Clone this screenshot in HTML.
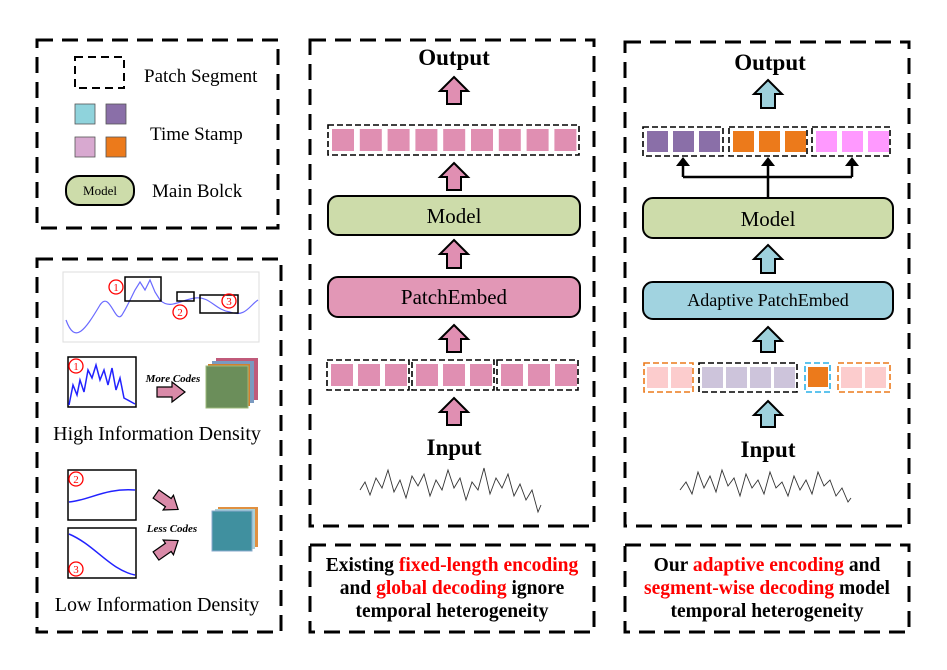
<!DOCTYPE html>
<html><head><meta charset="utf-8"><style>
html,body{margin:0;padding:0;background:#fff;}
svg{display:block;}
text{font-family:"Liberation Serif",serif;}
</style></head><body>
<svg id="s" width="947" height="670" viewBox="0 0 947 670" xmlns="http://www.w3.org/2000/svg">
<g fill="none" stroke="#000" stroke-width="3" stroke-dasharray="16,9">
<rect x="37" y="40" width="241" height="188"/>
<rect x="37" y="259" width="244" height="373"/>
<rect x="310" y="40" width="284" height="486"/>
<rect x="310" y="545" width="284" height="87"/>
<rect x="625" y="42" width="284" height="484"/>
<rect x="625" y="545" width="284" height="87"/>
</g>
<!-- legend -->
<rect x="75" y="57" width="49" height="31" fill="none" stroke="#000" stroke-width="2" stroke-dasharray="8,5"/>
<text x="144" y="82" font-size="19">Patch Segment</text>
<rect x="75" y="104" width="20" height="20" fill="#8fd3dc" stroke="#555" stroke-width="0.8"/>
<rect x="106" y="104" width="20" height="20" fill="#8a6fa8" stroke="#555" stroke-width="0.8"/>
<rect x="75" y="137" width="20" height="20" fill="#d8a9d0" stroke="#555" stroke-width="0.8"/>
<rect x="106" y="137" width="20" height="20" fill="#ec7a1b" stroke="#555" stroke-width="0.8"/>
<text x="150" y="140" font-size="19">Time Stamp</text>
<rect x="66" y="176" width="68" height="29" rx="13" fill="#cddcaa" stroke="#000" stroke-width="2"/>
<text x="100" y="195" font-size="13" text-anchor="middle">Model</text>
<text x="152" y="197" font-size="19">Main Bolck</text>
<!-- left bottom -->
<rect x="63" y="272" width="196" height="70" fill="#fff" stroke="#ddd"/>
<path d="M66,320 C75,345 85,330 100,305 C110,290 115,325 122,315 C128,305 130,300 135,290 L140,282 L145,290 L150,280 L155,292 L160,300 C170,310 180,300 195,298 C210,296 215,310 230,312 C245,318 250,305 258,300" fill="none" stroke="#6a6aff" stroke-width="1.2"/>
<rect x="125" y="277" width="36" height="24" fill="none" stroke="#000" stroke-width="1.5"/>
<rect x="177" y="292" width="17" height="9" fill="none" stroke="#000" stroke-width="1.5"/>
<rect x="200" y="295" width="38" height="18" fill="none" stroke="#000" stroke-width="1.5"/>
<g fill="none" stroke="red" stroke-width="1.3">
<circle cx="116" cy="287" r="7"/><circle cx="180" cy="312" r="7"/><circle cx="229" cy="301" r="7"/>
</g>
<g fill="red" font-size="11" text-anchor="middle" font-family="Liberation Sans"><text x="116" y="291">1</text><text x="180" y="316">2</text><text x="229" y="305">3</text></g>
<rect x="68" y="357" width="68" height="50" fill="#fff" stroke="#000" stroke-width="1.5"/>
<path d="M69,405 L73,385 L77,395 L80,380 L84,392 L88,370 L92,378 L96,365 L100,380 L104,370 L108,385 L112,368 L116,390 L120,378 L124,398 L135,404" fill="none" stroke="#22f" stroke-width="1.5"/>
<circle cx="76" cy="366" r="7" fill="none" stroke="red" stroke-width="1.3"/><text x="76" y="370" fill="red" font-size="11" text-anchor="middle" font-family="Liberation Sans">1</text>
<text x="173" y="382" font-size="11" font-style="italic" font-weight="bold" text-anchor="middle">More Codes</text>
<path d="M157,387 L172,387 L172,382 L185,392 L172,402 L172,397 L157,397 Z" fill="#d98aa8" stroke="#000" stroke-width="1.2"/>
<rect x="216" y="358" width="42" height="42" fill="#c05a7a"/><rect x="212" y="361" width="42" height="42" fill="#7a9ac0"/>
<rect x="208" y="364" width="42" height="42" fill="#d08030"/><rect x="206" y="366" width="42" height="42" fill="#6b8e5a" stroke="#9bb87a"/>
<text x="157" y="440" font-size="20" text-anchor="middle">High Information Density</text>
<rect x="68" y="470" width="68" height="50" fill="#fff" stroke="#000" stroke-width="1.5"/>
<path d="M69,502 C90,500 105,488 135,490" fill="none" stroke="#22f" stroke-width="1.5"/>
<circle cx="76" cy="479" r="7" fill="none" stroke="red" stroke-width="1.3"/><text x="76" y="483" fill="red" font-size="11" text-anchor="middle" font-family="Liberation Sans">2</text>
<rect x="68" y="528" width="68" height="50" fill="#fff" stroke="#000" stroke-width="1.5"/>
<path d="M69,534 C95,545 110,570 135,575" fill="none" stroke="#22f" stroke-width="1.5"/>
<circle cx="76" cy="569" r="7" fill="none" stroke="red" stroke-width="1.3"/><text x="76" y="573" fill="red" font-size="11" text-anchor="middle" font-family="Liberation Sans">3</text>
<text x="172" y="532" font-size="11" font-style="italic" font-weight="bold" text-anchor="middle">Less Codes</text>
<path transform="translate(156,494) rotate(35)" d="M0,-5 L15,-5 L15,-9 L27,0 L15,9 L15,5 L0,5 Z" fill="#d98aa8" stroke="#000" stroke-width="1.2"/>
<path transform="translate(156,556) rotate(-35)" d="M0,-5 L15,-5 L15,-9 L27,0 L15,9 L15,5 L0,5 Z" fill="#d98aa8" stroke="#000" stroke-width="1.2"/>
<rect x="218" y="507" width="40" height="40" fill="#e09040"/><rect x="215" y="509" width="40" height="40" fill="#a8d0d8"/>
<rect x="212" y="511" width="40" height="40" fill="#40909f" stroke="#8ac"/>
<text x="157" y="611" font-size="20" text-anchor="middle">Low Information Density</text>
<!-- middle -->
<text x="454" y="65" font-size="23" font-weight="bold" text-anchor="middle">Output</text>
<rect x="328" y="196" width="252" height="39" rx="10" fill="#cddcaa" stroke="#000" stroke-width="2"/>
<text x="454" y="223" font-size="21" text-anchor="middle">Model</text>
<rect x="328" y="277" width="252" height="40" rx="10" fill="#e297b6" stroke="#000" stroke-width="2"/>
<text x="454" y="304" font-size="21" text-anchor="middle">PatchEmbed</text>
<text x="454" y="455" font-size="23" font-weight="bold" text-anchor="middle">Input</text>
<path d="M360,490 L365,482 L370,495 L376,478 L382,488 L388,470 L394,492 L400,480 L406,498 L412,476 L418,486 L424,474 L430,496 L436,480 L442,490 L448,470 L454,488 L460,478 L466,500 L472,482 L478,490 L484,468 L490,494 L496,478 L502,488 L508,474 L514,496 L520,484 L526,500 L532,490 L538,512 L541,505" fill="none" stroke="#333" stroke-width="0.9"/>
<!-- right -->
<text x="770" y="70" font-size="23" font-weight="bold" text-anchor="middle">Output</text>
<path d="M768,198 L768,177 M683,177 L852,177 M683,177 L683,165 M852,177 L852,165 M768,177 L768,165" stroke="#000" stroke-width="2.5" fill="none"/>
<path d="M676,166 L690,166 L683,157 Z M761,166 L775,166 L768,157 Z M845,166 L859,166 L852,157 Z" fill="#000"/>
<rect x="643" y="198" width="250" height="40" rx="10" fill="#cddcaa" stroke="#000" stroke-width="2"/>
<text x="768" y="226" font-size="21" text-anchor="middle">Model</text>
<rect x="643" y="282" width="250" height="37" rx="10" fill="#a1d3e0" stroke="#000" stroke-width="2"/>
<text x="768" y="306" font-size="18" text-anchor="middle">Adaptive PatchEmbed</text>
<text x="768" y="457" font-size="23" font-weight="bold" text-anchor="middle">Input</text>
<path d="M680,490 L686,482 L692,494 L698,472 L704,488 L710,476 L716,492 L722,470 L728,486 L734,478 L740,496 L746,474 L752,488 L758,480 L764,494 L770,472 L776,488 L782,482 L788,496 L794,476 L800,490 L806,480 L812,494 L818,472 L824,486 L830,480 L836,496 L842,488 L848,502 L851,498" fill="none" stroke="#333" stroke-width="0.9"/>
<!-- text boxes -->
<g font-family="Liberation Sans" font-weight="bold" font-size="19.5" text-anchor="middle">
<text x="452" y="571">Existing <tspan fill="#f00">fixed-length encoding</tspan></text>
<text x="452" y="594">and <tspan fill="#f00">global decoding</tspan> ignore</text>
<text x="452" y="617">temporal heterogeneity</text>
<text x="767" y="571">Our <tspan fill="#f00">adaptive encoding</tspan> and</text>
<text x="767" y="594"><tspan fill="#f00">segment-wise decoding</tspan> model</text>
<text x="767" y="617">temporal heterogeneity</text>
</g>
<g id="gen"></g>
</svg>
<script>
var g=document.getElementById('gen'),ns='http://www.w3.org/2000/svg';
function el(t,a){var e=document.createElementNS(ns,t);for(var k in a)e.setAttribute(k,a[k]);g.appendChild(e);return e;}
function arrow(cx,y0,y1,c){el('path',{d:'M'+cx+','+y0+' L'+(cx+14)+','+(y0+14)+' L'+(cx+7)+','+(y0+14)+' L'+(cx+7)+','+y1+' L'+(cx-7)+','+y1+' L'+(cx-7)+','+(y0+14)+' L'+(cx-14)+','+(y0+14)+' Z',fill:c,stroke:'#000','stroke-width':2});}
function dbox(x,y,w,h,c){el('rect',{x:x,y:y,width:w,height:h,fill:'none',stroke:c,'stroke-width':1.6,'stroke-dasharray':'6,3'});}
function sq(x,y,n,c,step,s){for(var i=0;i<n;i++)el('rect',{x:x+i*step,y:y,width:s,height:s,fill:c});}
var P='#e08fb2',B='#9ed1dc';
[[77,104],[163,190],[240,268],[325,352],[398,425]].forEach(function(a){arrow(454,a[0],a[1],P);});
[[80,108],[245,273],[327,352],[401,427]].forEach(function(a){arrow(768,a[0],a[1],B);});
dbox(328,125,251,30,'#000');sq(332,129,9,P,27.8,22);
dbox(327,360,82,30,'#000');sq(331,364,3,P,27,22);
dbox(412,360,82,30,'#000');sq(416,364,3,P,27,22);
dbox(497,360,81,30,'#000');sq(501,364,3,P,27,22);
dbox(643,127,80,29,'#000');sq(647,131,3,'#8a6fa8',26,21);
dbox(729,127,78,29,'#000');sq(733,131,3,'#ec7a1b',26,21);
dbox(812,127,78,29,'#000');sq(816,131,3,'#ff99ff',26,21);
dbox(644,363,49,29,'#ec7a1b');sq(647,367,2,'#fccccd',24,21);
dbox(699,363,98,29,'#000');sq(702,367,4,'#cdc4db',24,21);
dbox(805,363,25,29,'#2ab0e8');sq(808,367,1,'#ec7a1b',24,20);
dbox(838,363,52,29,'#ec7a1b');sq(841,367,2,'#fccccd',24,21);
</script>
</body></html>
